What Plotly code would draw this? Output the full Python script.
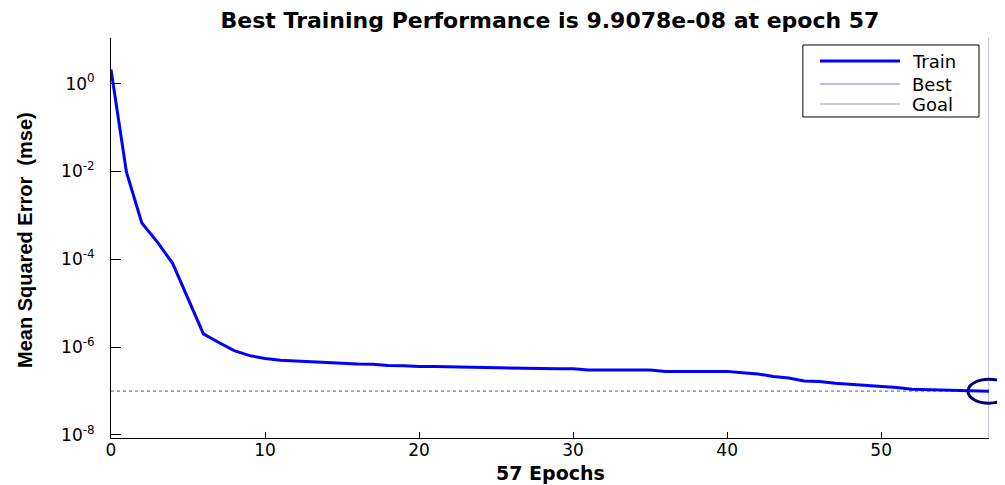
import math
import plotly.graph_objects as go

epochs = list(range(0, 58))
train_mse = [
    2.1, 9.8e-3, 6.7e-4, 2.5e-4, 8.1e-5, 1.3e-5, 2.0e-6, 1.27e-6, 8.3e-7, 6.4e-7,
    5.5e-7, 5.0e-7, 4.8e-7, 4.55e-7, 4.35e-7, 4.3e-7, 4.1e-7, 4.05e-7, 3.8e-7, 3.75e-7,
    3.6e-7, 3.6e-7, 3.55e-7, 3.4e-7, 3.4e-7, 3.4e-7, 3.35e-7, 3.2e-7, 3.2e-7, 3.2e-7,
    3.2e-7, 3.0e-7, 3.0e-7, 3.0e-7, 3.0e-7, 3.0e-7, 2.8e-7, 2.8e-7, 2.8e-7, 2.8e-7,
    2.8e-7, 2.6e-7, 2.45e-7, 2.15e-7, 1.97e-7, 1.7e-7, 1.65e-7, 1.5e-7, 1.42e-7, 1.35e-7,
    1.28e-7, 1.2e-7, 1.1e-7, 1.08e-7, 1.03e-7, 1.01e-7, 1.0e-7, 9.9078e-8,
]
best_epoch = 57
best_mse = 9.9078e-8
goal_mse = 1e-7

x_ticks = [0, 10, 20, 30, 40, 50]
y_ticks = [1e-8, 1e-6, 1e-4, 1e-2, 1e0]
y_ticktext = ["10<sup>-8</sup>", "10<sup>-6</sup>", "10<sup>-4</sup>", "10<sup>-2</sup>", "10<sup>0</sup>"]
legend_names = ["Train", "Best", "Goal"]

x_range = [0, 57]
y_log_range = [-8.07, 1.04]

TRAIN_C = "#0000ff"
BEST_C = "#8080c8"
GOAL_C = "#9a9a9a"

fig = go.Figure()
fig.add_trace(go.Scatter(x=[best_epoch, best_epoch],
                         y=[10 ** y_log_range[0], 10 ** y_log_range[1]],
                         mode="lines", line=dict(color=BEST_C, width=1), showlegend=False))
fig.add_trace(go.Scatter(x=x_range, y=[goal_mse, goal_mse], mode="lines",
                         line=dict(color=GOAL_C, width=1, dash="dot"), showlegend=False))
fig.add_trace(go.Scatter(x=x_range, y=[best_mse, best_mse], mode="lines",
                         line=dict(color=BEST_C, width=1, dash="dot"), showlegend=False))
fig.add_trace(go.Scatter(x=epochs, y=train_mse, mode="lines",
                         line=dict(color=TRAIN_C, width=3), showlegend=False))

# best-point ellipse (paper position derived from data value and axis ranges)
best_px = (best_epoch - x_range[0]) / (x_range[1] - x_range[0])
best_py = (math.log10(best_mse) - y_log_range[0]) / (y_log_range[1] - y_log_range[0])
fig.add_shape(type="circle", xref="paper", yref="paper",
              xsizemode="pixel", ysizemode="pixel",
              xanchor=best_px, yanchor=best_py,
              x0=-21, x1=21, y0=-12, y1=12,
              line=dict(color="#00007f", width=3), layer="above")

# manual legend
fig.add_shape(type="rect", xref="paper", yref="paper",
              x0=0.788, x1=0.9886, y0=0.8025, y1=0.9825,
              line=dict(color="black", width=1), fillcolor="white", layer="above")
leg_colors = [TRAIN_C, BEST_C, GOAL_C]
leg_widths = [3, 1, 1]
leg_y = [0.9425, 0.885, 0.835]
for name, c, w, yy in zip(legend_names, leg_colors, leg_widths, leg_y):
    fig.add_shape(type="line", xref="paper", yref="paper",
                  x0=0.8075, x1=0.8986, y0=yy, y1=yy,
                  line=dict(color=c, width=w), layer="above")
    fig.add_annotation(xref="paper", yref="paper", x=0.910, y=yy, text=name,
                       showarrow=False, xanchor="left", yanchor="middle",
                       font=dict(family="DejaVu Sans", size=18, color="black"))

fig.add_annotation(xref="paper", yref="paper", x=-0.098, y=0.495,
                   text="<b>Mean Squared Error  (mse)</b>", textangle=-90,
                   showarrow=False, xanchor="center", yanchor="middle",
                   font=dict(family="Liberation Sans, Arial", size=20, color="black"))

fig.add_annotation(xref="paper", yref="paper", x=0.5, y=-0.0875,
                   text="<b>57 Epochs</b>", showarrow=False,
                   xanchor="center", yanchor="middle",
                   font=dict(family="DejaVu Sans", size=19, color="black"))

fig.update_layout(
    width=997, height=477,
    margin=dict(l=103, r=16, t=30, b=47),
    paper_bgcolor="white", plot_bgcolor="white",
    showlegend=False,
    title=dict(text="<b>Best Training Performance is 9.9078e-08 at epoch 57</b>",
               x=(103 + 981) / 2 / 997, xanchor="center", y=1 - 12 / 477, yanchor="middle",
               font=dict(family="DejaVu Sans", size=22, color="black")),
    xaxis=dict(range=x_range, tickvals=x_ticks, ticks="inside", ticklen=6, tickcolor="black",
               automargin=False, ticklabelstandoff=-3,
               showline=True, linecolor="black", linewidth=1, showgrid=False, zeroline=False,
               tickfont=dict(family="DejaVu Sans", size=17, color="black")),
    yaxis=dict(type="log", range=y_log_range, tickvals=y_ticks, ticktext=y_ticktext,
               automargin=False,
               ticks="inside", ticklen=10, tickcolor="black", ticklabelstandoff=12,
               showline=True, linecolor="black", linewidth=1, showgrid=False, zeroline=False,
               tickfont=dict(family="DejaVu Sans", size=17, color="black")),
)

fig.write_html("out.html")
